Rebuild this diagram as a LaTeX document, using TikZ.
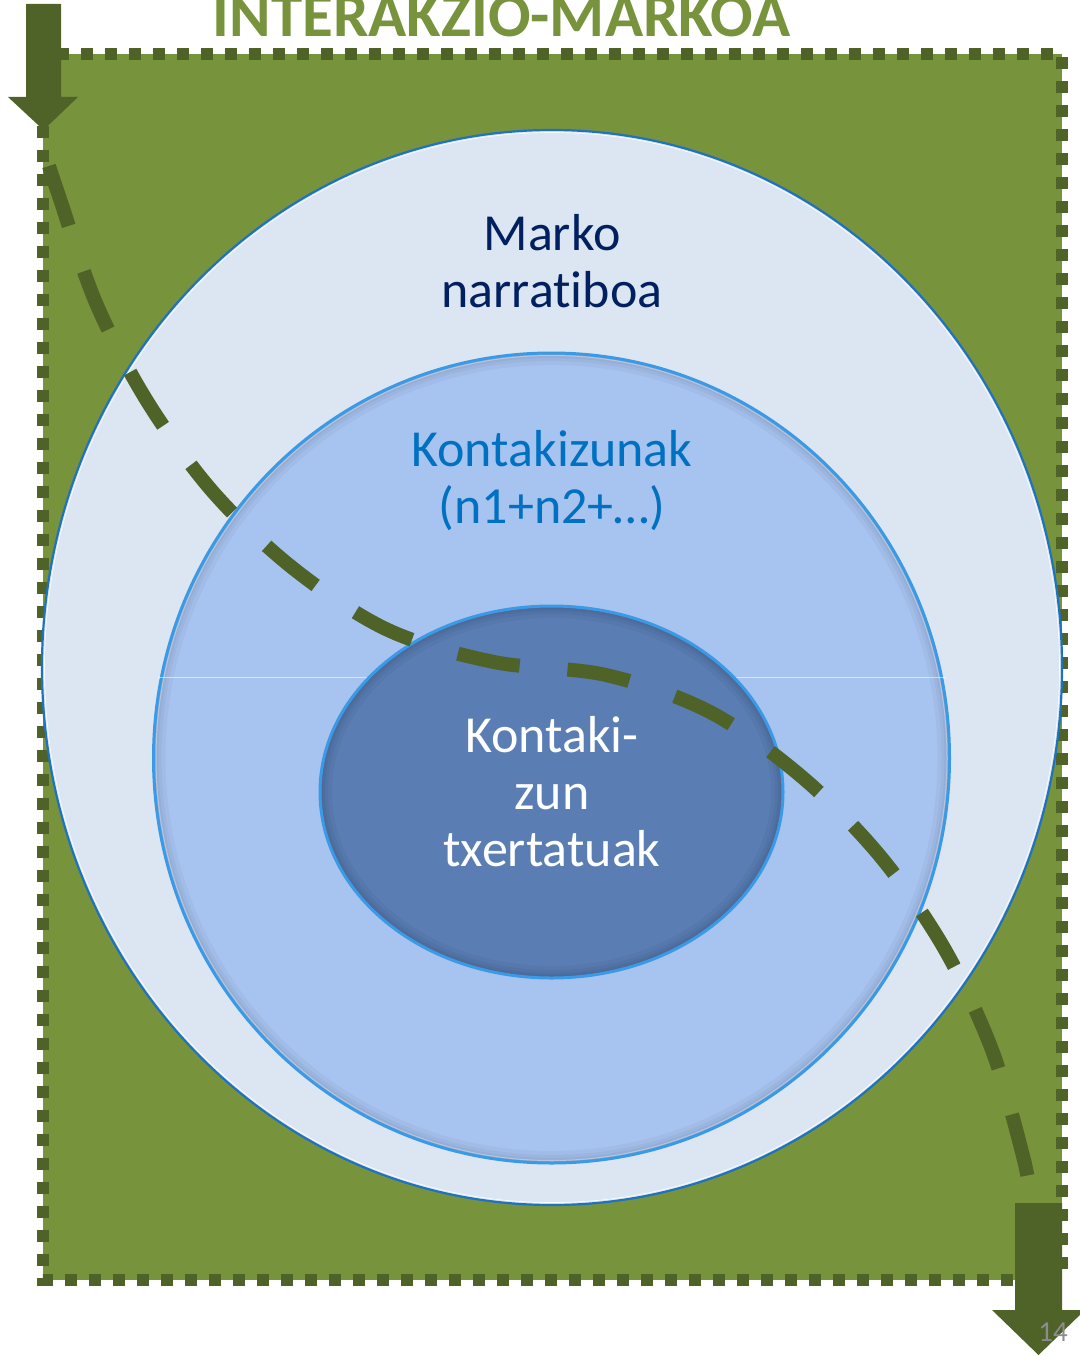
\documentclass[tikz,border=0pt]{standalone}
\usepackage{fontspec}
\setmainfont{Carlito}[RawFeature=-liga]
\definecolor{grn}{HTML}{77933C}
\definecolor{dgrn}{HTML}{4F6228}
\definecolor{pale}{HTML}{DCE6F2}
\definecolor{midb}{HTML}{A7C3F0}
\definecolor{innb}{HTML}{5A7DB3}
\definecolor{navy}{HTML}{002060}
\definecolor{kblue}{HTML}{0070C0}
\definecolor{edgeb}{HTML}{3A9AE6}
\definecolor{outb}{HTML}{1E72C0}
\definecolor{pgray}{HTML}{8C8C8C}
\begin{document}
\begin{tikzpicture}[x=1pt,y=-1pt,
  framebox/.style={fill=grn, draw=dgrn, line width=12, dash pattern=on 12 off 12},
  bigarrow/.style={fill=dgrn, draw=none},
  lbl/.style={font=\fontsize{52}{57}\selectfont, align=center, inner sep=0},
  pathdash/.style={draw=dgrn, line width=14, dash pattern=on 63 off 48, line cap=butt},
  inshadow/.style={draw=black, opacity=0.035},
]
\useasboundingbox (0,0) rectangle (1079,1356);
% frame
\path[framebox] (43,54) rectangle (1062,1280);
% title
\node[font=\fontsize{63}{70}\selectfont\bfseries, text=grn, anchor=base, inner sep=0] (title) at (501.5,37) {INTERAKZIO-MARKOA};
% outer ellipse
\path[fill=pale, draw=outb, line width=2.2] (552,667.5) ellipse [x radius=510, y radius=537.5];
\path[draw=white, line width=0.6] (552,667.5) ellipse [x radius=507.5, y radius=535];
% middle ellipse
\path[fill=midb] (551.5,758) ellipse [x radius=398, y radius=405];
\begin{scope}
  \clip (551.5,758) ellipse [x radius=398, y radius=405];
  \foreach \w in {24,16,10,6}
    \path[inshadow, line width=\w] (551.5,758) ellipse [x radius=398, y radius=405];
\end{scope}
\path[draw=edgeb, line width=3] (551.5,758) ellipse [x radius=398, y radius=405];
\path[draw=white, opacity=0.35, line width=1] (551.5,758) ellipse [x radius=395.5, y radius=402.5];
% faint horizontal line
\path[draw=white, opacity=0.55, line width=1] (158,677) -- (946,677);
% inner ellipse
\path[fill=innb] (551.5,792) ellipse [x radius=231.5, y radius=186];
\begin{scope}
  \clip (551.5,792) ellipse [x radius=231.5, y radius=186];
  \foreach \w in {24,16,10,6}
    \path[inshadow, line width=\w] (551.5,792) ellipse [x radius=231.5, y radius=186];
\end{scope}
\path[draw=edgeb, line width=3] (551.5,792) ellipse [x radius=231.5, y radius=186];
% labels
\node[lbl, text=navy, anchor=base] (marko) at (552,307) {Marko\\narratiboa};
\node[lbl, text=kblue, anchor=base] (kont) at (552,523) {Kontakizunak\\(n1+n2+…)};
\node[lbl, text=white, anchor=base] (txert) at (552,866) {Kontaki-\\zun\\txertatuak};
% dashed path
\draw[pathdash] plot[smooth, tension=0.55] coordinates {(49,166) (59,196) (96,303) (147,401) (213,492) (294,569) (388,630) (494,662) (606,675) (710,712) (802,777) (880,856) (944,948) (992,1050) (1023,1156) (1031,1200)};
% arrows
\path[bigarrow] (26,4) -- (61,4) -- (61,97) -- (78,97) -- (43.5,130) -- (8,97) -- (26,97) -- cycle;
\path[bigarrow] (1015,1203) -- (1062,1203) -- (1062,1310) -- (1085,1310) -- (1038.5,1355) -- (992,1310) -- (1015,1310) -- cycle;
\node[font=\fontsize{29}{32}\selectfont, text=pgray, anchor=base, inner sep=0] (pnum) at (1053,1341) {14};
\end{tikzpicture}
\end{document}
